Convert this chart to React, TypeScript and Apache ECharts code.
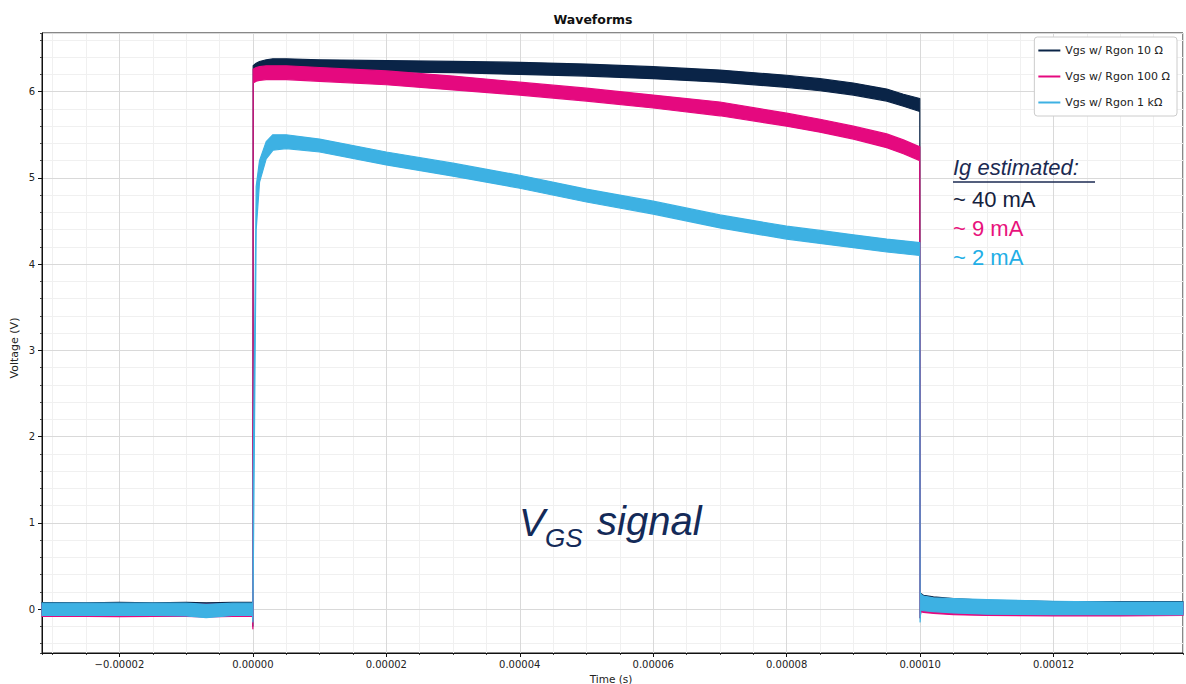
import React, { useEffect, useRef } from 'react';
import * as echarts from 'echarts';

// Sample times in microseconds
const TIME_US = [-31.6, -25, -20, -15, -10, -7, -3, -0.05, 0, 0.05, 0.5, 1, 2, 3, 5, 10, 20, 30, 40, 50, 60, 70, 80, 85, 90, 95, 97.5, 99.95, 100, 100.1, 100.5, 102, 105, 110, 120, 130, 139.4];

// Lower / upper edge of each noisy trace band (V)
const VGS_10_LOW = [-0.06, -0.06, -0.05, -0.06, -0.06, -0.06, -0.05, -0.05, -0.2, 6.18, 6.2, 6.22, 6.23, 6.24, 6.24, 6.24, 6.23, 6.22, 6.2, 6.18, 6.15, 6.11, 6.05, 6.01, 5.96, 5.89, 5.83, 5.77, -0.1, -0.02, -0.03, -0.04, -0.055, -0.065, -0.065, -0.065, -0.06];
const VGS_10_HIGH = [0.075, 0.072, 0.076, 0.072, 0.077, 0.072, 0.076, 0.076, 0.076, 6.3, 6.33, 6.35, 6.37, 6.38, 6.38, 6.37, 6.36, 6.35, 6.34, 6.32, 6.29, 6.25, 6.19, 6.15, 6.1, 6.03, 5.97, 5.92, 0.18, 0.18, 0.16, 0.14, 0.12, 0.1, 0.085, 0.085, 0.085];

const VGS_100_LOW = [-0.085, -0.085, -0.088, -0.085, -0.085, -0.09, -0.085, -0.085, -0.23, 6.1, 6.12, 6.13, 6.14, 6.14, 6.14, 6.12, 6.08, 6.02, 5.96, 5.89, 5.81, 5.72, 5.6, 5.53, 5.45, 5.35, 5.28, 5.2, -0.1, -0.03, -0.04, -0.05, -0.065, -0.075, -0.08, -0.08, -0.075];
const VGS_100_HIGH = [0.055, 0.055, 0.055, 0.055, 0.055, 0.055, 0.055, 0.055, 0.055, 6.26, 6.28, 6.29, 6.3, 6.3, 6.3, 6.28, 6.24, 6.18, 6.11, 6.04, 5.96, 5.88, 5.75, 5.68, 5.6, 5.51, 5.44, 5.36, 0.15, 0.16, 0.14, 0.12, 0.1, 0.08, 0.07, 0.07, 0.07];

const VGS_1K_LOW = [-0.075, -0.075, -0.075, -0.075, -0.08, -0.1, -0.075, -0.075, -0.15, 0.3, 4.4, 4.95, 5.22, 5.32, 5.34, 5.3, 5.15, 5.02, 4.88, 4.72, 4.58, 4.42, 4.29, 4.24, 4.19, 4.14, 4.12, 4.1, -0.15, -0.01, -0.02, -0.03, -0.045, -0.06, -0.065, -0.065, -0.065];
const VGS_1K_HIGH = [0.068, 0.068, 0.068, 0.068, 0.068, 0.055, 0.068, 0.068, 0.06, 1.5, 4.9, 5.2, 5.42, 5.5, 5.5, 5.45, 5.3, 5.17, 5.03, 4.87, 4.73, 4.57, 4.44, 4.39, 4.34, 4.29, 4.27, 4.25, 0.2, 0.17, 0.15, 0.13, 0.12, 0.11, 0.09, 0.08, 0.08];

const SERIES_NAMES = ['Vgs w/ Rgon 10 Ω', 'Vgs w/ Rgon 100 Ω', 'Vgs w/ Rgon 1 kΩ'];
const COLORS = ['#0a2447', '#e5097f', '#3db1e3'];
const IG_LABELS = ['~ 40 mA', '~ 9 mA', '~ 2 mA'];
const IG_COLORS = ['#14213d', '#e8127c', '#22aee6'];

const X_MIN = -3.16e-5;
const X_MAX = 1.394e-4;
const Y_MIN = -0.51;
const Y_MAX = 6.68;

const fmtX = (v: number) => v.toFixed(5).replace('-', '\u2212');

export default function App() {
  const ref = useRef<HTMLDivElement>(null);
  useEffect(() => {
    if (!ref.current) return;
    const chart = echarts.init(ref.current, undefined, { renderer: 'svg' });
    const bands = [
      [VGS_10_LOW, VGS_10_HIGH],
      [VGS_100_LOW, VGS_100_HIGH],
      [VGS_1K_LOW, VGS_1K_HIGH],
    ];
    const series = bands.map(([lo, hi], k) => ({
      type: 'custom',
      name: SERIES_NAMES[k],
      xAxisIndex: 0,
      yAxisIndex: 0,
      itemStyle: { color: COLORS[k] },
      encode: { x: 0, y: [1, 2] },
      data: TIME_US.map((t, i) => [t * 1e-6, lo[i], hi[i]]),
      renderItem: (params: any, api: any) => {
        if (params.dataIndex !== 0) return null;
        const top = TIME_US.map((t, i) => api.coord([t * 1e-6, hi[i]]));
        const bottom = TIME_US.map((t, i) => api.coord([t * 1e-6, lo[i]])).reverse();
        return {
          type: 'polygon',
          shape: { points: top.concat(bottom) },
          style: { fill: COLORS[k], stroke: COLORS[k], lineWidth: 1.2, lineJoin: 'round' },
        };
      },
    }));

    const annFont = 'Liberation Sans, Arial, sans-serif';
    const minorAxisCommon = {
      type: 'value',
      axisLine: { show: false, onZero: false },
      axisTick: { show: true, length: 2, lineStyle: { color: '#444' } },
      axisLabel: { show: false },
      splitLine: { show: true, lineStyle: { color: '#f0f0f0', width: 1 } },
    };
    chart.setOption({
      animation: false,
      backgroundColor: '#ffffff',
      title: {
        text: 'Waveforms',
        left: 'center',
        top: 8,
        textStyle: { fontFamily: 'DejaVu Sans', fontSize: 12.5, fontWeight: 'bold', color: '#111' },
      },
      legend: {
        data: SERIES_NAMES.map((n) => ({ name: n, icon: 'rect' })),
        orient: 'vertical',
        right: 9,
        top: 37,
        itemWidth: 22,
        itemHeight: 2,
        itemGap: 15,
        padding: [8, 7, 8, 4],
        backgroundColor: '#ffffff',
        borderColor: '#cccccc',
        borderWidth: 1,
        borderRadius: 3,
        textStyle: { fontFamily: 'DejaVu Sans', fontSize: 11, color: '#222' },
      },
      grid: {
        left: 42,
        right: 3,
        top: 33,
        bottom: 31,
        show: true,
        borderColor: '#111',
        borderWidth: 1,
        backgroundColor: 'transparent',
      },
      xAxis: [
        {
          type: 'value',
          min: X_MIN,
          max: X_MAX,
          splitNumber: 8,
          position: 'bottom',
          z: 1,
          axisLine: { show: true, onZero: false, lineStyle: { color: '#111', width: 1 } },
          axisTick: { show: true, length: 4, lineStyle: { color: '#111' } },
          axisLabel: {
            formatter: fmtX,
            showMinLabel: false,
            showMaxLabel: false,
            fontFamily: 'DejaVu Sans',
            fontSize: 10,
            color: '#222',
            margin: 6,
          },
          splitLine: { show: true, lineStyle: { color: '#d9d9d9', width: 1 } },
        },
        {
          ...minorAxisCommon,
          min: X_MIN,
          max: X_MAX,
          splitNumber: 32,
          position: 'bottom',
          z: 0,
        },
      ],
      yAxis: [
        {
          type: 'value',
          min: Y_MIN,
          max: Y_MAX,
          splitNumber: 7,
          position: 'left',
          z: 1,
          axisLine: { show: true, onZero: false, lineStyle: { color: '#111', width: 1 } },
          axisTick: { show: true, length: 4, lineStyle: { color: '#111' } },
          axisLabel: {
            formatter: (v: number) => String(Math.round(v)),
            showMinLabel: false,
            showMaxLabel: false,
            fontFamily: 'DejaVu Sans',
            fontSize: 10,
            color: '#222',
            margin: 7,
          },
          splitLine: { show: true, lineStyle: { color: '#d9d9d9', width: 1 } },
        },
        {
          ...minorAxisCommon,
          min: Y_MIN,
          max: Y_MAX,
          splitNumber: 36,
          position: 'left',
          z: 0,
        },
      ],
      series,
      graphic: [
        {
          type: 'text',
          x: 14,
          y: 348,
          rotation: Math.PI / 2,
          style: { text: 'Voltage (V)', fontFamily: 'DejaVu Sans', fontSize: 11, fill: '#222', align: 'center', verticalAlign: 'middle' },
        },
        {
          type: 'text',
          x: 611,
          y: 673,
          style: { text: 'Time (s)', fontFamily: 'DejaVu Sans', fontSize: 10.5, fill: '#222', align: 'center', verticalAlign: 'top' },
        },
        {
          type: 'text',
          x: 953,
          y: 167,
          z: 10,
          style: { text: 'Ig estimated:', fontFamily: annFont, fontSize: 22, fontStyle: 'italic', fill: '#1b2a52', align: 'left', verticalAlign: 'middle' },
        },
        {
          type: 'line',
          z: 10,
          shape: { x1: 953, y1: 182, x2: 1095, y2: 182 },
          style: { stroke: '#1b2a52', lineWidth: 1.6 },
        },
        ...IG_LABELS.map((t, k) => ({
          type: 'text',
          x: 953,
          y: 199 + k * 29,
          z: 10,
          style: { text: t, fontFamily: annFont, fontSize: 22, fill: IG_COLORS[k], align: 'left', verticalAlign: 'middle' },
        })),
        {
          type: 'text',
          x: 519,
          y: 522,
          z: 10,
          style: { text: 'V', fontFamily: annFont, fontSize: 39, fontStyle: 'italic', fill: '#142a58', align: 'left', verticalAlign: 'middle' },
        },
        {
          type: 'text',
          x: 545,
          y: 538,
          z: 10,
          style: { text: 'GS', fontFamily: annFont, fontSize: 26, fontStyle: 'italic', fill: '#142a58', align: 'left', verticalAlign: 'middle' },
        },
        {
          type: 'text',
          x: 597,
          y: 521,
          z: 10,
          style: { text: 'signal', fontFamily: annFont, fontSize: 40, fontStyle: 'italic', fill: '#142a58', align: 'left', verticalAlign: 'middle' },
        },
      ],
    });
    return () => chart.dispose();
  }, []);
  return (
    <div
      ref={ref}
      style={{ position: 'absolute', left: 0, top: 0, width: 1186, height: 684 }}
    />
  );
}
